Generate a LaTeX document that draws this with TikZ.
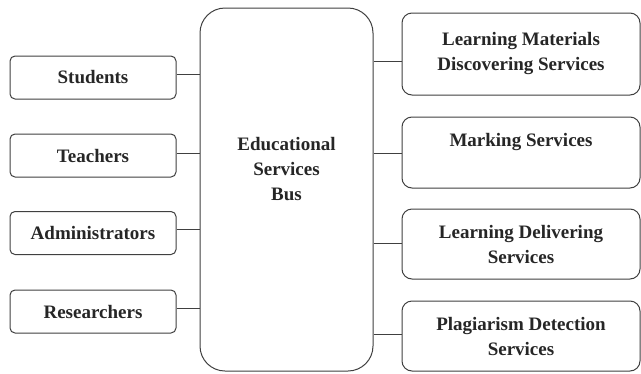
\documentclass[tikz,border=0pt]{standalone}
\usepackage{fontspec}
\setmainfont{Liberation Serif}
\begin{document}
\begin{tikzpicture}[x=1pt,y=-1pt,
  txt/.style={font=\fontsize{19}{25}\selectfont\bfseries, align=center, text=black!85},
  box/.style={draw=black!75, line width=1pt, fill=white, txt, inner sep=0pt},
  lbox/.style={box, rounded corners=5pt, minimum width=166pt, minimum height=43pt},
  rbox/.style={box, rounded corners=10pt, minimum width=238pt, minimum height=#1},
  conn/.style={draw=black!75, line width=1pt}]
\useasboundingbox (0,0) rectangle (641,373);
\node[box, rounded corners=25pt, minimum width=173pt, minimum height=363pt] (bus) at (286.5,189.5) {};
\node[txt] (bustxt) at (286.5,169) {Educational\\Services\\Bus};
\node[lbox] (stu) at (93,77.5) {Students};
\node[lbox] (tea) at (93,155.5) {Teachers};
\node[lbox] (adm) at (93,233) {Administrators};
\node[lbox] (res) at (93,311.5) {Researchers};
\node[rbox=82pt] (lm) at (521,54) {Learning Materials\\Discovering Services};
\node[rbox=71pt] (mk) at (521,152.5) {Marking Services\\ \phantom{X}};
\node[rbox=70pt] (ld) at (521,244) {Learning Delivering\\Services};
\node[rbox=70pt] (pd) at (521,336) {Plagiarism Detection\\Services};
\foreach \n/\d in {stu/-3.5,tea/-2.5,adm/-4,res/-3.5}
  \draw[conn] ([yshift=-\d pt]\n.east) -- ([yshift=-\d pt]\n.east -| bus.west);
\foreach \n/\d in {lm/7,mk/0.5,ld/-1,pd/-2}
  \draw[conn] ([yshift=-\d pt]\n.west) -- ([yshift=-\d pt]\n.west -| bus.east);
\end{tikzpicture}
\end{document}
